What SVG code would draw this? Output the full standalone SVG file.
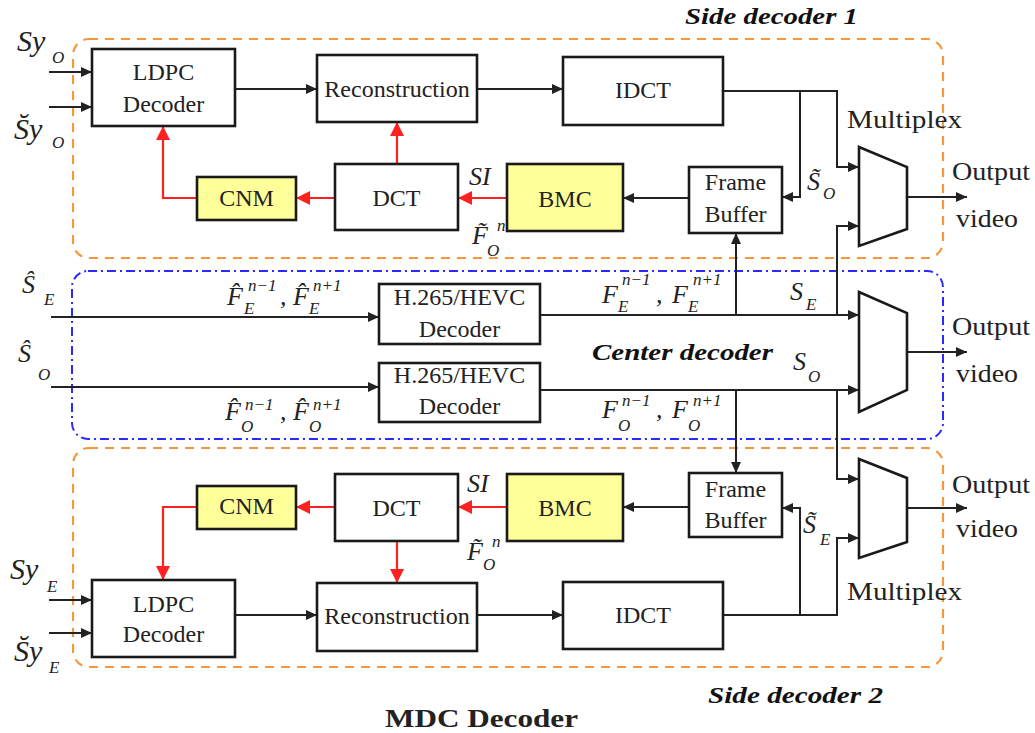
<svg xmlns="http://www.w3.org/2000/svg" width="1035" height="733" viewBox="0 0 1035 733">
<style>
.box{fill:#fff;stroke:#1a1a1a;stroke-width:2.6}
.yel{fill:#ffff99}
.t{font-family:'Liberation Serif','Times New Roman',Tinos,Times,'DejaVu Serif',serif;font-size:24px;fill:#222;text-anchor:middle}
.m{font-family:'Liberation Serif','Times New Roman',Tinos,Times,'DejaVu Serif',serif;font-style:italic;fill:#222;font-size:26px}
.sm{font-size:17px}
.ttl{font-family:'Liberation Serif','Times New Roman',Tinos,Times,'DejaVu Serif',serif;font-weight:bold;font-style:italic;font-size:24px;fill:#111}
.pl{font-family:'Liberation Serif','Times New Roman',Tinos,Times,'DejaVu Serif',serif;font-size:25px;fill:#222}
.ln{stroke:#222;stroke-width:2;fill:none}
.rd{stroke:#ff2020;stroke-width:2.2;fill:none}
.og{fill:none;stroke:#f7963c;stroke-width:2.2;stroke-dasharray:9,7}
.bl{fill:none;stroke:#2a2aff;stroke-width:2;stroke-dasharray:9,4,2,4}
</style>
<defs>
<marker id="ab" markerUnits="userSpaceOnUse" markerWidth="12" markerHeight="10" refX="11" refY="5" orient="auto"><path d="M0,0 L11,5 L0,10 z" fill="#222"/></marker>
<marker id="ar" markerUnits="userSpaceOnUse" markerWidth="15" markerHeight="14" refX="14" refY="7" orient="auto"><path d="M0,0 L14,7 L0,14 z" fill="#ff2020"/></marker>
</defs>
<rect width="1035" height="733" fill="#fff"/>

<g id="regions">
<rect class="og" x="73" y="39" width="870" height="219" rx="16"/>
<rect class="bl" x="72" y="271" width="871" height="168" rx="16"/>
<rect class="og" x="73" y="448" width="870" height="219" rx="16"/>
<text class="ttl" x="685" y="24" textLength="173" lengthAdjust="spacingAndGlyphs">Side decoder 1</text>
<text class="ttl" x="592" y="360" textLength="181" lengthAdjust="spacingAndGlyphs">Center decoder</text>
<text class="ttl" x="708" y="703" textLength="175" lengthAdjust="spacingAndGlyphs">Side decoder 2</text>
<text class="pl" x="385" y="727" font-weight="bold" font-size="26" fill="#111" textLength="193" lengthAdjust="spacingAndGlyphs">MDC Decoder</text>
</g>

<g id="connectors">
<path class="ln" d="M49,72 H92" marker-end="url(#ab)"/>
<path class="ln" d="M49,107 H92" marker-end="url(#ab)"/>
<path class="ln" d="M235,89 H317" marker-end="url(#ab)"/>
<path class="ln" d="M477,89 H563" marker-end="url(#ab)"/>
<path class="ln" d="M723,91 H837 V167 H859" marker-end="url(#ab)"/>
<path class="ln" d="M800,91 V197 H782" marker-end="url(#ab)"/>
<path class="ln" d="M689,198 H623" marker-end="url(#ab)"/>
<path class="rd" d="M507,198 H458" marker-end="url(#ar)"/>
<path class="rd" d="M335,198 H296" marker-end="url(#ar)"/>
<path class="rd" d="M197,198 H163 V126" marker-end="url(#ar)"/>
<path class="rd" d="M397,164 V122" marker-end="url(#ar)"/>
<path class="ln" d="M907,197 H967" marker-end="url(#ab)"/>
<path class="ln" d="M51,317 H379" marker-end="url(#ab)"/>
<path class="ln" d="M51,387 H379" marker-end="url(#ab)"/>
<path class="ln" d="M540,315 H859" marker-end="url(#ab)"/>
<path class="ln" d="M736,315 V233" marker-end="url(#ab)"/>
<path class="ln" d="M837,315 V226 H859" marker-end="url(#ab)"/>
<path class="ln" d="M540,390 H859" marker-end="url(#ab)"/>
<path class="ln" d="M736,390 V473" marker-end="url(#ab)"/>
<path class="ln" d="M837,390 V479 H859" marker-end="url(#ab)"/>
<path class="ln" d="M907,352 H967" marker-end="url(#ab)"/>
<path class="ln" d="M907,508 H967" marker-end="url(#ab)"/>
<path class="ln" d="M723,615 H837 V538 H859" marker-end="url(#ab)"/>
<path class="ln" d="M800,615 V508 H782" marker-end="url(#ab)"/>
<path class="ln" d="M689,507 H623" marker-end="url(#ab)"/>
<path class="rd" d="M507,507 H458" marker-end="url(#ar)"/>
<path class="rd" d="M335,507 H296" marker-end="url(#ar)"/>
<path class="rd" d="M197,507 H163 V580" marker-end="url(#ar)"/>
<path class="rd" d="M397,541 V583" marker-end="url(#ar)"/>
<path class="ln" d="M235,615 H317" marker-end="url(#ab)"/>
<path class="ln" d="M477,615 H563" marker-end="url(#ab)"/>
<path class="ln" d="M49,600 H92" marker-end="url(#ab)"/>
<path class="ln" d="M49,633 H92" marker-end="url(#ab)"/>
</g>

<g id="ldpc1"><rect class="box" x="92" y="49" width="143" height="77"/><text class="t" x="163.5" y="80">LDPC</text><text class="t" x="163.5" y="112">Decoder</text></g>
<g id="recon1"><rect class="box" x="317" y="55" width="160" height="67"/><text class="t" x="397" y="97" font-size="21">Reconstruction</text></g>
<g id="idct1"><rect class="box" x="563" y="57" width="160" height="68"/><text class="t" x="643" y="98">IDCT</text></g>
<g id="cnm1"><rect class="box yel" x="197" y="177" width="99" height="43"/><text class="t" x="246.5" y="206">CNM</text></g>
<g id="dct1"><rect class="box" x="335" y="164" width="123" height="66"/><text class="t" x="396.5" y="206">DCT</text></g>
<g id="bmc1"><rect class="box yel" x="507" y="164" width="116" height="67"/><text class="t" x="565" y="207">BMC</text></g>
<g id="fb1"><rect class="box" x="689" y="167" width="93" height="66"/><text class="t" x="735.5" y="190">Frame</text><text class="t" x="735.5" y="222">Buffer</text></g>
<g id="mux1"><polygon class="box" points="859,147 907,167 907,229 859,246"/></g>
<g id="hevc1"><rect class="box" x="379" y="284" width="161" height="60"/><text class="t" x="459.5" y="305">H.265/HEVC</text><text class="t" x="459.5" y="337">Decoder</text></g>
<g id="hevc2"><rect class="box" x="379" y="363" width="161" height="59"/><text class="t" x="459.5" y="383">H.265/HEVC</text><text class="t" x="459.5" y="414">Decoder</text></g>
<g id="mux2"><polygon class="box" points="859,292 907,313 907,390 859,412"/></g>
<g id="fb2"><rect class="box" x="689" y="473" width="93" height="64"/><text class="t" x="735.5" y="497">Frame</text><text class="t" x="735.5" y="528">Buffer</text></g>
<g id="mux3"><polygon class="box" points="859,459 907,478 907,542 859,558"/></g>
<g id="cnm2"><rect class="box yel" x="197" y="486" width="99" height="43"/><text class="t" x="246.5" y="514">CNM</text></g>
<g id="dct2"><rect class="box" x="335" y="474" width="123" height="67"/><text class="t" x="396.5" y="516">DCT</text></g>
<g id="bmc2"><rect class="box yel" x="507" y="474" width="116" height="67"/><text class="t" x="565" y="516">BMC</text></g>
<g id="ldpc2"><rect class="box" x="92" y="580" width="143" height="77"/><text class="t" x="163.5" y="612">LDPC</text><text class="t" x="163.5" y="642">Decoder</text></g>
<g id="recon2"><rect class="box" x="317" y="583" width="160" height="68"/><text class="t" x="397" y="624" font-size="21">Reconstruction</text></g>
<g id="idct2"><rect class="box" x="563" y="582" width="160" height="67"/><text class="t" x="643" y="623">IDCT</text></g>

<g id="labels">
<g class="pl">
<text x="847" y="128" textLength="115" lengthAdjust="spacingAndGlyphs">Multiplex</text>
<text x="847" y="600" textLength="115" lengthAdjust="spacingAndGlyphs">Multiplex</text>
<text x="952" y="180" textLength="78" lengthAdjust="spacingAndGlyphs">Output</text>
<text x="956" y="227" textLength="62" lengthAdjust="spacingAndGlyphs">video</text>
<text x="952" y="335" textLength="78" lengthAdjust="spacingAndGlyphs">Output</text>
<text x="956" y="382" textLength="62" lengthAdjust="spacingAndGlyphs">video</text>
<text x="952" y="493" textLength="78" lengthAdjust="spacingAndGlyphs">Output</text>
<text x="956" y="537" textLength="62" lengthAdjust="spacingAndGlyphs">video</text>
</g>
<g class="m">
<text x="17" y="51" font-size="30">Sy<tspan class="sm" x="52" y="63">O</tspan></text>
<text x="14" y="139" font-size="30">S&#x306;y<tspan class="sm" x="52" y="148">O</tspan></text>
<text x="10" y="579" font-size="30">Sy<tspan class="sm" x="47" y="592">E</tspan></text>
<text x="14" y="661" font-size="30">S&#x306;y<tspan class="sm" x="49" y="673">E</tspan></text>
<text x="22" y="293">S&#x302;<tspan class="sm" x="44" y="305">E</tspan></text>
<text x="18" y="362">S&#x302;<tspan class="sm" x="38" y="380">O</tspan></text>
<text x="227" y="305">F&#x302;<tspan class="sm" x="244" y="314">E</tspan><tspan class="sm" x="248" y="291">n−1</tspan><tspan x="280" y="305">,</tspan><tspan x="293" y="305">F&#x302;</tspan><tspan class="sm" x="309" y="314">E</tspan><tspan class="sm" x="313" y="291">n+1</tspan></text>
<text x="225" y="420">F&#x302;<tspan class="sm" x="241" y="432">O</tspan><tspan class="sm" x="245" y="410">n−1</tspan><tspan x="280" y="420">,</tspan><tspan x="293" y="420">F&#x302;</tspan><tspan class="sm" x="309" y="432">O</tspan><tspan class="sm" x="313" y="410">n+1</tspan></text>
<text x="602" y="303">F<tspan class="sm" x="618" y="312">E</tspan><tspan class="sm" x="622" y="285">n−1</tspan><tspan x="656" y="303">,</tspan><tspan x="672" y="303">F</tspan><tspan class="sm" x="688" y="312">E</tspan><tspan class="sm" x="693" y="285">n+1</tspan></text>
<text x="602" y="418">F<tspan class="sm" x="618" y="431">O</tspan><tspan class="sm" x="622" y="406">n−1</tspan><tspan x="656" y="418">,</tspan><tspan x="672" y="418">F</tspan><tspan class="sm" x="688" y="431">O</tspan><tspan class="sm" x="693" y="406">n+1</tspan></text>
<text x="790" y="300">S<tspan class="sm" x="806" y="310">E</tspan></text>
<text x="793" y="370">S<tspan class="sm" x="808" y="382">O</tspan></text>
<text x="807" y="190">S&#x303;<tspan class="sm" x="823" y="199">O</tspan></text>
<text x="803" y="533">S&#x303;<tspan class="sm" x="820" y="545">E</tspan></text>
<text x="469" y="185">SI</text>
<text x="472" y="244">F&#x303;<tspan class="sm" x="497" y="231">n</tspan><tspan class="sm" x="487" y="256">O</tspan></text>
<text x="467" y="492">SI</text>
<text x="467" y="560">F&#x303;<tspan class="sm" x="492" y="547">n</tspan><tspan class="sm" x="483" y="570">O</tspan></text>
</g>
</g>
</svg>
